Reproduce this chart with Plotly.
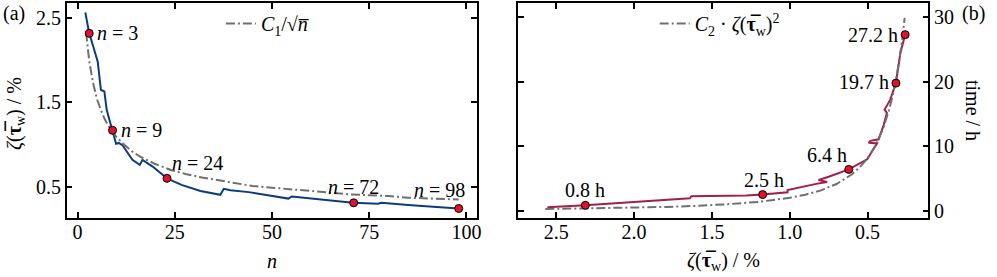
import plotly.graph_objects as go

# ---------------- data: panel (a) ----------------
n_line = [2, 3, 4, 5.2, 6.0, 6.9, 7.5, 9, 9.9, 10.6, 11.6, 14.1, 16.0, 16.7, 19.3, 23,
          26.9, 31.6, 36.7, 37.6, 39.3, 44, 51.7, 54.2, 55.1, 60, 65, 70.8, 77.3, 78.1,
          85, 90, 97.9]
zeta_line = [2.567, 2.32, 2.17, 1.98, 1.65, 1.63, 1.41, 1.17, 1.01, 1.02, 0.99, 0.82, 0.76,
             0.82, 0.74, 0.60, 0.52, 0.45, 0.405, 0.476, 0.46, 0.437, 0.385, 0.36, 0.385,
             0.36, 0.335, 0.31, 0.30, 0.31, 0.283, 0.27, 0.243]

n_fit = [2.2, 3, 4, 5, 6, 7, 8, 9, 10, 12, 14, 16, 18, 20, 24, 28, 32, 36, 40, 45, 50,
         55, 60, 65, 70, 75, 80, 85, 90, 95, 98]
zeta_fit = [2.33, 1.99, 1.73, 1.54, 1.41, 1.30, 1.22, 1.15, 1.09, 1.00, 0.92, 0.86, 0.81,
            0.77, 0.70, 0.65, 0.61, 0.58, 0.55, 0.51, 0.49, 0.47, 0.45, 0.43, 0.41, 0.40,
            0.39, 0.37, 0.36, 0.35, 0.35]

n_mark = [3, 9, 23, 71, 98]
zeta_mark = [2.32, 1.17, 0.60, 0.31, 0.243]
n_labels = ["<i>n</i> = 3", "<i>n</i> = 9", "<i>n</i> = 24", "<i>n</i> = 72", "<i>n</i> = 98"]

# ---------------- data: panel (b) ----------------
zeta_t = [2.557, 2.313, 1.642, 1.632, 1.28, 1.174, 1.014, 1.014, 0.83, 0.76, 0.815, 0.75,
          0.621, 0.503, 0.439, 0.493, 0.482, 0.429, 0.397, 0.376, 0.391, 0.355, 0.318,
          0.29, 0.259]
time_t = [0.57, 0.88, 1.96, 2.3, 2.42, 2.55, 2.89, 3.25, 4.2, 4.5, 4.8, 5.3,
          6.44, 8.0, 10.46, 10.56, 10.87, 11.1, 13.3, 15.2, 15.7, 17.2, 19.8,
          24.4, 27.3]

zeta_fit2 = [2.57, 2.4, 2.2, 2.0, 1.8, 1.6, 1.4, 1.2, 1.0, 0.9, 0.8, 0.7, 0.6, 0.55, 0.5,
             0.45, 0.4, 0.36, 0.33, 0.3, 0.28, 0.262]
time_fit2 = [0.31, 0.36, 0.42, 0.51, 0.63, 0.80, 1.05, 1.42, 2.05, 2.53, 3.20, 4.18, 5.69,
             6.78, 8.2, 10.1, 12.8, 15.8, 18.8, 22.8, 26.1, 29.9]

zeta_mark2 = [2.313, 1.174, 0.621, 0.318, 0.259]
time_mark2 = [0.88, 2.55, 6.44, 19.8, 27.3]
time_labels = ["0.8 h", "2.5 h", "6.4 h", "19.7 h", "27.2 h"]

# ---------------- styling ----------------
FONT = "Liberation Serif, Times New Roman, DejaVu Serif, serif"
FS = 20
BLUE = "#0c3c7c"
MAROON = "#a21f4b"
GRAY = "#6f6f6f"
RED = "#e0122c"
DASH = "9px,3px,2px,3px"

fig = go.Figure()

fig.add_trace(go.Scatter(x=n_line, y=zeta_line, mode="lines", xaxis="x", yaxis="y",
                         line=dict(color=BLUE, width=2), showlegend=False))
fig.add_trace(go.Scatter(x=n_fit, y=zeta_fit, mode="lines", xaxis="x", yaxis="y",
                         line=dict(color=GRAY, width=2, dash=DASH),
                         name="<i>C</i><sub>1</sub>/√<i>n̅</i>", legend="legend"))
fig.add_trace(go.Scatter(x=n_mark, y=zeta_mark, mode="markers", xaxis="x", yaxis="y",
                         marker=dict(color=RED, size=8, line=dict(color="black", width=1)),
                         showlegend=False))

fig.add_trace(go.Scatter(x=zeta_t, y=time_t, mode="lines", xaxis="x2", yaxis="y2",
                         line=dict(color=MAROON, width=2), showlegend=False))
fig.add_trace(go.Scatter(x=zeta_fit2, y=time_fit2, mode="lines", xaxis="x2", yaxis="y2",
                         line=dict(color=GRAY, width=2, dash=DASH),
                         name="<i>C</i><sub>2</sub> · <i>ζ</i>(<b>τ̅</b><sub>w</sub>)<sup>2</sup>",
                         legend="legend2"))
fig.add_trace(go.Scatter(x=zeta_mark2, y=time_mark2, mode="markers", xaxis="x2", yaxis="y2",
                         marker=dict(color=RED, size=8, line=dict(color="black", width=1)),
                         showlegend=False))

axis_common = dict(showline=True, linecolor="black", linewidth=1.5, mirror="allticks",
                   ticks="inside", ticklen=6, tickwidth=1.5, tickcolor="black",
                   showgrid=False, zeroline=False,
                   tickfont=dict(family=FONT, size=FS, color="black"))

annotations = []
# panel (a) marker labels
a_specs = [("left", 6, 0), ("left", 6, 0), ("left", 3, 15), ("center", 0, 16), ("right", 8, 18)]
for xv, yv, txt, (anc, xs, ys) in zip(n_mark, zeta_mark, n_labels, a_specs):
    annotations.append(dict(x=xv, y=yv, xref="x", yref="y", text=txt, showarrow=False,
                            xanchor=anc, yanchor="middle", xshift=xs, yshift=ys,
                            font=dict(family=FONT, size=FS, color="black")))
b_specs = [("center", 0, 15), ("center", 1, 15), ("right", 0, 14), ("right", -5, 1), ("right", -5, 0)]
for xv, yv, txt, (anc, xs, ys) in zip(zeta_mark2, time_mark2, time_labels, b_specs):
    annotations.append(dict(x=xv, y=yv, xref="x2", yref="y2", text=txt, showarrow=False,
                            xanchor=anc, yanchor="middle", xshift=xs, yshift=ys,
                            font=dict(family=FONT, size=FS, color="black")))

def paper_ann(x, y, text, angle=0, xanchor="center"):
    return dict(x=x, y=y, xref="paper", yref="paper", text=text, showarrow=False,
                xanchor=xanchor, yanchor="middle", textangle=angle,
                font=dict(family=FONT, size=FS, color="black"))

annotations += [
    paper_ann(14 / 997, 0.953, "(a)"),
    paper_ann(992 / 997, 0.953, "(b)", xanchor="right"),
    paper_ann(15 / 997, 0.488, "<i>ζ</i>(<b>τ̅</b><sub>w</sub>) / %", -90),
    paper_ann(978 / 997, 0.502, "time / h", 90),
    paper_ann(273 / 997, -0.2, "<i>n</i>"),
    paper_ann(727 / 997, -0.2, "<i>ζ</i>(<b>τ̅</b><sub>w</sub>) / %"),
]

fig.update_layout(
    width=997, height=277,
    margin=dict(l=0, r=0, t=3, b=59),
    paper_bgcolor="white", plot_bgcolor="white",
    font=dict(family=FONT, size=FS, color="black"),
    xaxis=dict(domain=[67 / 997, 479 / 997], range=[-2.8, 102.6], anchor="y",
               tickvals=[0, 25, 50, 75, 100], ticklabelstandoff=-5, **axis_common),
    yaxis=dict(domain=[0, 1], range=[0.13, 2.68], anchor="x",
               tickvals=[0.5, 1.5, 2.5], tickformat=".1f", **axis_common),
    xaxis2=dict(domain=[521 / 997, 933 / 997], range=[2.743, 0.11], anchor="y2",
                tickvals=[0.5, 1.0, 1.5, 2.0, 2.5], tickformat=".1f",
                ticklabelstandoff=-5, **axis_common),
    yaxis2=dict(domain=[0, 1], range=[-1.08, 32.2], anchor="x2", side="right",
                tickvals=[0, 10, 20, 30], **axis_common),
    legend=dict(x=222 / 997, y=0.995, xanchor="left", yanchor="top",
                bgcolor="rgba(0,0,0,0)", itemwidth=30,
                font=dict(family=FONT, size=FS, color="black")),
    legend2=dict(x=658 / 997, y=0.995, xanchor="left", yanchor="top",
                 bgcolor="rgba(0,0,0,0)", itemwidth=30,
                 font=dict(family=FONT, size=FS, color="black")),
    annotations=annotations,
)

fig.write_html("out.html", config={"displayModeBar": False},
               post_script="document.body.style.margin='0';")
